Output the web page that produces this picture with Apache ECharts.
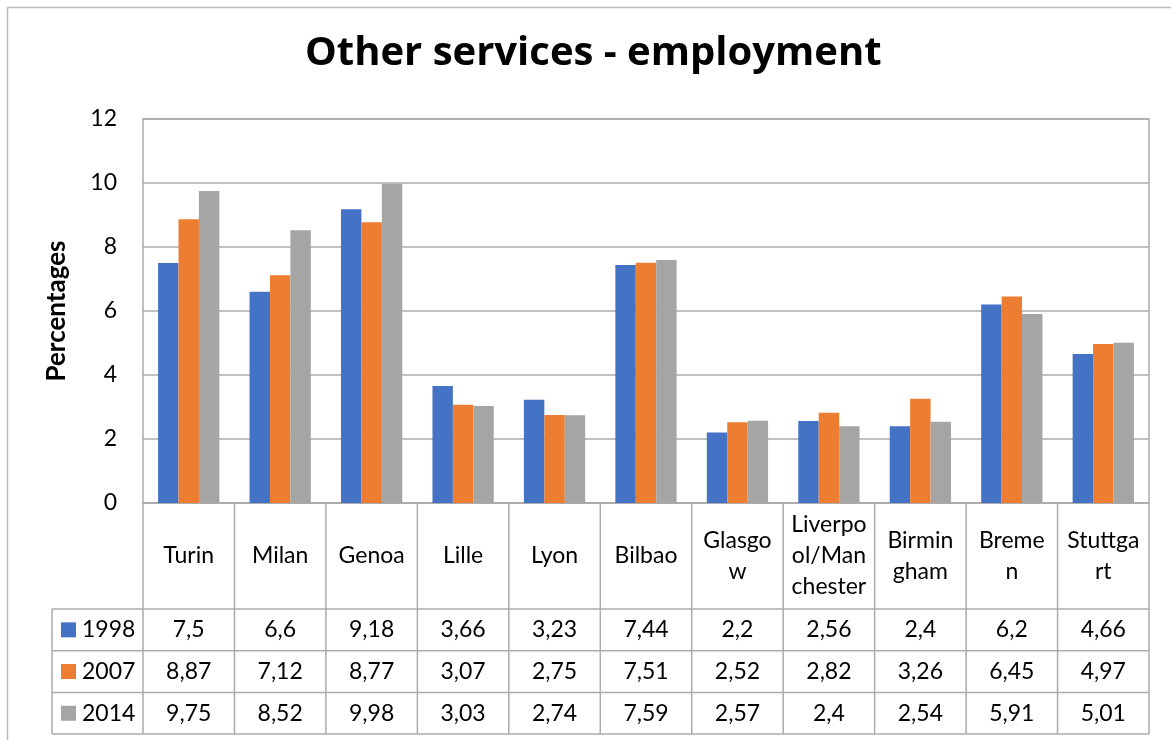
<!DOCTYPE html>
<html>
<head>
<meta charset="utf-8">
<title>Other services - employment</title>
<script src="https://cdn.jsdelivr.net/npm/echarts@6/dist/echarts.min.js"></script>
<style>
  html, body { margin: 0; padding: 0; background: #ffffff; }
  #chart { width: 1171px; height: 740px; }
</style>
</head>
<body>
<div id="chart"></div>
<script>
// City names and the wrapped form shown in the table header
const cities = ['Turin', 'Milan', 'Genoa', 'Lille', 'Lyon', 'Bilbao', 'Glasgow',
  'Liverpool/Manchester', 'Birmingham', 'Bremen', 'Stuttgart'];
const cityLabels = ['Turin', 'Milan', 'Genoa', 'Lille', 'Lyon', 'Bilbao', 'Glasgo\nw',
  'Liverpo\nol/Man\nchester', 'Birmin\ngham', 'Breme\nn', 'Stuttga\nrt'];

const years = ['1998', '2007', '2014'];
const values1998 = [7.5, 6.6, 9.18, 3.66, 3.23, 7.44, 2.2, 2.56, 2.4, 6.2, 4.66];
const values2007 = [8.87, 7.12, 8.77, 3.07, 2.75, 7.51, 2.52, 2.82, 3.26, 6.45, 4.97];
const values2014 = [9.75, 8.52, 9.98, 3.03, 2.74, 7.59, 2.57, 2.4, 2.54, 5.91, 5.01];
const seriesValues = [values1998, values2007, values2014];
const colors = ['#4472C4', '#ED7D31', '#A5A5A5'];

const yTicks = [0, 2, 4, 6, 8, 10, 12];

const FONT = 'Lato, "Noto Sans", sans-serif';
const TITLE_FONT = '"Open Sans", Lato, sans-serif';
const LINE = '#ababab';

// Numbers are written with a decimal comma
const fmt = v => String(v).replace('.', ',');

const chart = echarts.init(document.getElementById('chart'), null, { renderer: 'canvas' });

const option = {
  backgroundColor: '#ffffff',
  animation: false,
  title: {
    text: 'Other services - employment',
    left: 305,
    top: 34,
    padding: 0,
    textStyle: { fontFamily: TITLE_FONT, fontSize: 40, fontWeight: 'bold', color: '#000000' }
  },
  grid: {
    left: 143, right: 22, top: 119, bottom: 237,
    show: true, borderColor: LINE, borderWidth: 1.5, backgroundColor: 'transparent'
  },
  xAxis: {
    type: 'category',
    data: cityLabels,
    axisTick: { show: false },
    axisLine: { lineStyle: { color: LINE, width: 1.5 } },
    axisLabel: {
      interval: 0,
      margin: 53,
      verticalAlign: 'middle',
      fontFamily: FONT, fontSize: 23, lineHeight: 31, color: '#000000'
    }
  },
  yAxis: {
    type: 'value',
    min: yTicks[0], max: yTicks[yTicks.length - 1], interval: 2,
    name: 'Percentages',
    nameLocation: 'middle',
    nameGap: 73,
    nameRotate: 90,
    nameTextStyle: { fontFamily: FONT, fontSize: 26, fontWeight: 'bold', color: '#000000' },
    axisLine: { show: false },
    axisTick: { show: false },
    splitLine: { lineStyle: { color: LINE, width: 1.5 } },
    axisLabel: { margin: 26, fontFamily: FONT, fontSize: 23, color: '#000000' }
  },
  series: years.map((y, i) => ({
    name: y,
    type: 'bar',
    data: seriesValues[i],
    itemStyle: { color: colors[i] },
    barGap: '0%',
    barCategoryGap: '33%'
  }))
};

chart.setOption(option);

// Data table under the plot, aligned to the category axis
function buildTable() {
  const centers = cities.map((_, i) => chart.convertToPixel({ xAxisIndex: 0 }, i));
  const band = centers[1] - centers[0];
  const xLeft = centers[0] - band / 2;
  const xRight = centers[centers.length - 1] + band / 2;
  const yAxisBase = chart.convertToPixel({ yAxisIndex: 0 }, 0);
  const headerH = 106;
  const rowH = 41.7;
  const legendLeft = 52;
  const yHeaderBottom = yAxisBase + headerH;
  const yBottom = yHeaderBottom + rowH * years.length;

  const els = [];
  const line = (x1, y1, x2, y2) => els.push({
    type: 'line', silent: true,
    shape: { x1, y1, x2, y2 },
    style: { stroke: LINE, lineWidth: 1.5 }
  });

  // outer chart frame
  els.push({
    type: 'rect', silent: true,
    shape: { x: 7.5, y: 7.5, width: 1200, height: 760 },
    style: { fill: 'none', stroke: '#bdbdbd', lineWidth: 1.5 }
  });

  // vertical column lines
  for (let i = 0; i <= cities.length; i++) {
    const x = xLeft + band * i;
    line(x, yAxisBase, x, yBottom);
  }
  line(legendLeft, yHeaderBottom, legendLeft, yBottom);
  // horizontal row lines
  for (let r = 0; r <= years.length; r++) {
    const y = yHeaderBottom + rowH * r;
    line(legendLeft, y, xRight, y);
  }

  years.forEach((yr, r) => {
    const cy = yHeaderBottom + rowH * r + rowH / 2;
    els.push({
      type: 'rect', silent: true,
      shape: { x: 61, y: cy - 7.5, width: 15, height: 15 },
      style: { fill: colors[r] }
    });
    els.push({
      type: 'text', silent: true,
      x: 82, y: cy,
      style: { text: yr, fontFamily: FONT, fontSize: 23, fill: '#000000',
               align: 'left', verticalAlign: 'middle' }
    });
    seriesValues[r].forEach((v, c) => {
      els.push({
        type: 'text', silent: true,
        x: centers[c], y: cy,
        style: { text: fmt(v), fontFamily: FONT, fontSize: 23, fill: '#000000',
                 align: 'center', verticalAlign: 'middle' }
      });
    });
  });

  chart.setOption({ graphic: { elements: els } });
}

buildTable();
</script>
</body>
</html>
